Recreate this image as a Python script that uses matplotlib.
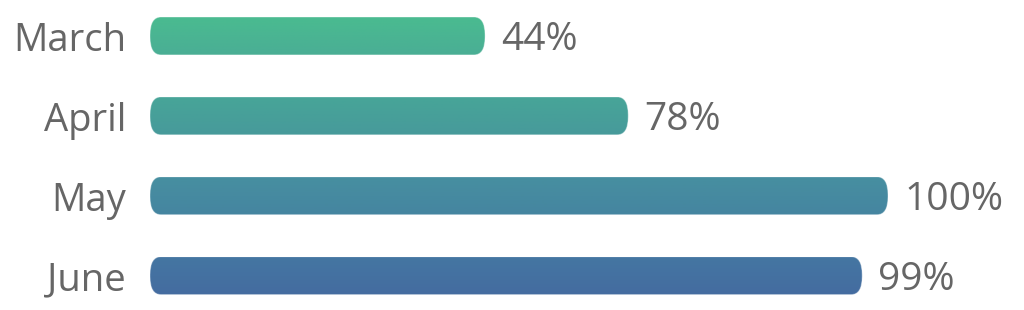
import matplotlib
matplotlib.use("Agg")
import matplotlib.pyplot as plt
import numpy as np
from matplotlib.patches import FancyBboxPatch
from matplotlib.colors import to_rgb

categories = ["March", "April", "May", "June"]
bar_lengths = [45.4, 64.8, 100, 96.5]
value_labels = ["44%", "78%", "100%", "99%"]
top_colors = ["#4abb90", "#47a598", "#478fa0", "#4576a2"]
bottom_colors = ["#4aae95", "#479a9b", "#4585a0", "#446ca0"]

W, H = 1024, 310
fig = plt.figure(figsize=(W / 100, H / 100), dpi=100)
ax = fig.add_axes([150 / W, 0, 738 / W, 1])
ax.set_xlim(0, 100)
ax.set_ylim(3.43, -0.45)
ax.axis("off")

bar_h = 0.475
px_x = 738 / 100.0   # pixels per x unit
px_y = 80.0          # pixels per y unit
rx = 11 / px_x
ry = 18 / px_y

font = "Open Sans"
for i, (cat, L, lab) in enumerate(zip(categories, bar_lengths, value_labels)):
    patch = FancyBboxPatch((0, i - bar_h / 2), L, bar_h,
                           boxstyle=f"round,pad=0,rounding_size={rx}",
                           mutation_aspect=ry / rx,
                           facecolor="none", edgecolor="none")
    ax.add_patch(patch)
    c1 = np.array(to_rgb(top_colors[i]))
    c2 = np.array(to_rgb(bottom_colors[i]))
    t = np.linspace(0, 1, 64)[:, None, None]
    grad = c1 * (1 - t) + c2 * t
    im = ax.imshow(grad, extent=[0, L, i + bar_h / 2, i - bar_h / 2],
                   aspect="auto", interpolation="bilinear", zorder=2)
    im.set_clip_path(patch)
    edge = FancyBboxPatch((0, i - bar_h / 2), L, bar_h,
                          boxstyle=f"round,pad=0,rounding_size={rx}",
                          mutation_aspect=ry / rx,
                          facecolor="none", edgecolor=(1, 1, 1, 0.35),
                          linewidth=0.8, zorder=3)
    ax.add_patch(edge)

    ax.annotate(cat, xy=(0, i), xytext=(-24, -15), textcoords="offset pixels",
                ha="right", va="baseline", fontsize=27.5, color="#666666",
                family=font, annotation_clip=False)
    ax.annotate(lab, xy=(L, i), xytext=(16, -14), textcoords="offset pixels",
                ha="left", va="baseline", fontsize=28, color="#666666",
                family=font, annotation_clip=False)

fig.savefig("out.png", dpi=100)
